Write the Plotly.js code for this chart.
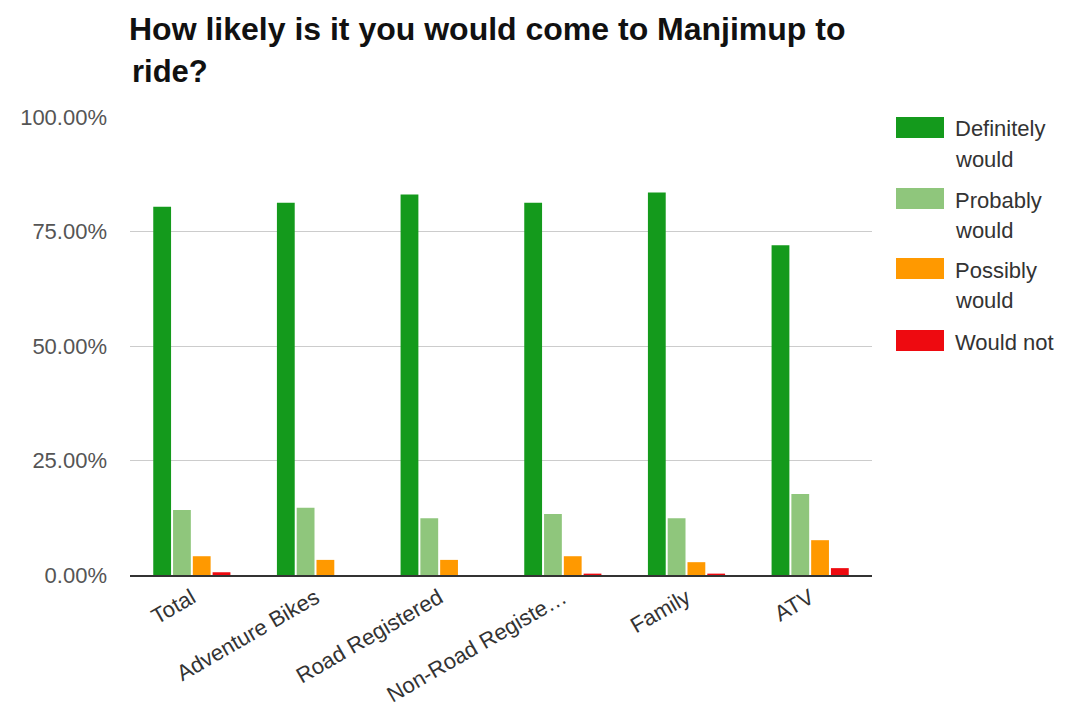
<!DOCTYPE html>
<html>
<head>
<meta charset="utf-8">
<script src="https://cdn.plot.ly/plotly-3.0.1.min.js"></script>
<style>html,body{margin:0;padding:0;background:#fff;}#chart{width:1071px;height:710px;}</style>
</head>
<body>
<div id="chart"></div>
<script>
const categories = ["Total", "Adventure Bikes", "Road Registered", "Non-Road Registered", "Family", "ATV"];
const tickLabels = ["Total", "Adventure Bikes", "Road Registered", "Non-Road Registe\u2026", "Family", "ATV"];
const seriesNames = ["Definitely would", "Probably would", "Possibly would", "Would not"];
const legendLines = [["Definitely", "would"], ["Probably", "would"], ["Possibly", "would"], ["Would not"]];
const definitelyWould = [0.804, 0.813, 0.831, 0.813, 0.835, 0.720];
const probablyWould   = [0.142, 0.147, 0.124, 0.133, 0.124, 0.177];
const possiblyWould   = [0.041, 0.033, 0.033, 0.041, 0.028, 0.076];
const wouldNot        = [0.006, 0.000, 0.000, 0.003, 0.003, 0.015];
const colors = ["#149a1c", "#8fc67c", "#ff9900", "#ee0a10"];
const yTicks = [0, 0.25, 0.5, 0.75, 1.0];

const seriesValues = [definitelyWould, probablyWould, possiblyWould, wouldNot];
const traces = seriesValues.map((vals, i) => ({
  type: "bar",
  name: seriesNames[i],
  x: categories,
  y: vals,
  marker: {color: colors[i]},
  showlegend: false,
  hoverinfo: "x+y+name"
}));

const FONT = "Liberation Sans, Arial, Helvetica, sans-serif";
const W = 1071, H = 710;
const shapes = [];
const annotations = [];
// custom legend
const legendTops = [117, 188, 258, 330];
legendLines.forEach((lines, i) => {
  const top = legendTops[i];
  shapes.push({
    type: "rect", xref: "paper", yref: "paper",
    x0: (896 - 130) / (872 - 130), x1: (944 - 130) / (872 - 130),
    y0: (575 - top) / (575 - 117), y1: (575 - (top + 21)) / (575 - 117),
    fillcolor: colors[i], line: {width: 0}
  });
  lines.forEach((t, j) => {
    annotations.push({
      xref: "paper", yref: "paper",
      x: (953 - 130) / (872 - 130), y: (575 - (top + 12 + j * 30)) / (575 - 117),
      xanchor: "left", yanchor: "middle",
      text: t, showarrow: false,
      font: {family: FONT, size: 22, color: "#333"}
    });
  });
});
// second title line
annotations.push({
  xref: "paper", yref: "paper",
  x: 0, y: (575 - 71) / (575 - 117), xanchor: "left", yanchor: "middle",
  text: "<b>ride?</b>", showarrow: false,
  font: {family: FONT, size: 31, color: "#111"}
});

const layout = {
  width: W, height: H,
  paper_bgcolor: "#fff", plot_bgcolor: "#fff",
  margin: {l: 130, r: 199, t: 117, b: 135},
  title: {
    text: "<b>How likely is it you would come to Manjimup to</b>",
    x: 129 / W, xanchor: "left", xref: "container",
    y: 1 - 29 / H, yanchor: "middle", yref: "container",
    font: {family: FONT, size: 32, color: "#111"}
  },
  barmode: "group",
  bargap: 0.36,
  bargroupgap: 0.1,
  xaxis: {
    type: "category",
    tickvals: categories,
    ticktext: tickLabels,
    tickangle: -30,
    showline: true, linecolor: "#333", linewidth: 1.5,
    ticks: "", showgrid: false,
    tickfont: {family: FONT, size: 22, color: "#333"}
  },
  yaxis: {
    range: [0, 1],
    tickvals: yTicks,
    tickformat: ".2%",
    showgrid: true, gridcolor: "#cccccc", gridwidth: 1,
    zeroline: false, showline: false, ticks: "",
    ticklabelstandoff: 22,
    tickfont: {family: FONT, size: 22, color: "#555"}
  },
  shapes: shapes,
  annotations: annotations
};

Plotly.newPlot("chart", traces, layout, {displayModeBar: false, staticPlot: true});
</script>
</body>
</html>
